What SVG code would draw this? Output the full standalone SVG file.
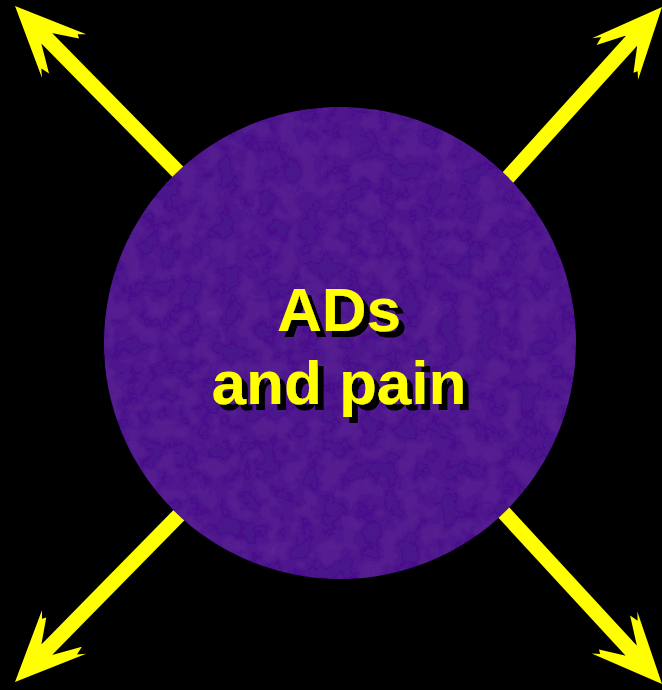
<svg xmlns="http://www.w3.org/2000/svg" width="662" height="690" viewBox="0 0 662 690">
<defs>
<style>
.shaft{stroke:#ffff00;stroke-width:15;fill:none}
.head{fill:#ffff00}
.lbl{font-family:"Liberation Sans",Arial,sans-serif;font-weight:bold;font-size:62px;text-anchor:middle;fill:#ffff00}
</style>
<path id="ah" d="M0,0 L-70,-31 L-63,-25 L-72,-23 L-46,-8 L-43,0 L-46,8 L-68,23 L-64,25 L-70,31 Z"/>
<filter id="tex" x="0" y="0" width="1" height="1">
<feTurbulence type="fractalNoise" baseFrequency="0.05" numOctaves="4" seed="4" result="n"/>
<feColorMatrix in="n" type="matrix" values="0 0 0 0 0.12  0 0 0 0 0.02  0 0 0 0 0.3  0 0 0 1.4 -0.5" result="c"/>
<feComposite in="c" in2="SourceGraphic" operator="in" result="m"/>
<feMerge><feMergeNode in="SourceGraphic"/><feMergeNode in="m"/></feMerge>
</filter>
<filter id="shadow" x="-10%" y="-10%" width="130%" height="130%">
<feOffset in="SourceAlpha" dx="6" dy="6" result="o"/>
<feFlood flood-color="#000000"/>
<feComposite in2="o" operator="in" result="s"/>
<feMerge><feMergeNode in="s"/><feMergeNode in="SourceGraphic"/></feMerge>
</filter>
</defs>
<rect width="662" height="690" fill="#000000"/>
<g id="connectors">
<g transform="translate(15,6) rotate(225.5)"><line class="shaft" x1="-40" y1="0" x2="-260" y2="0"/><use href="#ah" class="head"/></g>
<g transform="translate(662,7) rotate(-47.9)"><line class="shaft" x1="-40" y1="0" x2="-260" y2="0"/><use href="#ah" class="head"/></g>
<g transform="translate(662,684) rotate(47.3)"><line class="shaft" x1="-40" y1="0" x2="-260" y2="0"/><use href="#ah" class="head"/></g>
<g transform="translate(15,682) rotate(134.5)"><line class="shaft" x1="-40" y1="0" x2="-260" y2="0"/><use href="#ah" class="head"/></g>
</g>
<g id="center">
<circle cx="340" cy="343" r="236" fill="#4a168c" filter="url(#tex)"/>
<text class="lbl" filter="url(#shadow)"><tspan x="339" y="331">ADs</tspan><tspan x="339" y="404">and pain</tspan></text>
</g>
</svg>
